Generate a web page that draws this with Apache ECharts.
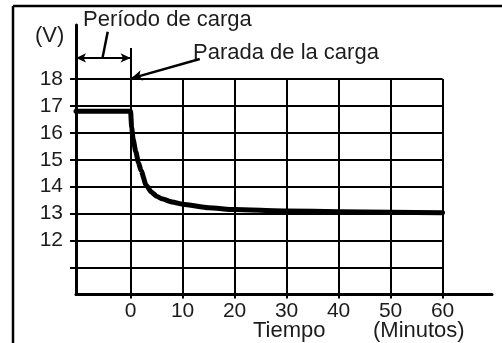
<!DOCTYPE html>
<html>
<head>
<meta charset="utf-8">
<style>
  html, body { margin: 0; padding: 0; background: #fff; }
  #chart { width: 502px; height: 343px; }
</style>
<script src="https://cdn.jsdelivr.net/npm/echarts@6/dist/echarts.min.js"></script>
</head>
<body>
<div id="chart"></div>
<script>
// Battery voltage after the charger is switched off (time in minutes, voltage in V)
const timeMin = [-10.5, 0, 0.2, 0.5, 1, 1.5, 2, 3, 4, 5, 6, 8, 10, 15, 20, 30, 40, 50, 60];
const voltage = [16.8, 16.8, 16.2, 15.75, 15.3, 14.9, 14.6, 14.05, 13.8, 13.65, 13.55, 13.43, 13.35, 13.22, 13.15, 13.1, 13.07, 13.05, 13.03];

// Axis ticks and labels
const xTickValues = [0, 10, 20, 30, 40, 50, 60];
const yTickValues = [11, 12, 13, 14, 15, 16, 17, 18];
const yLabelValues = [12, 13, 14, 15, 16, 17, 18];

// Grid extents (data units)
const xStart = -10.5, xEnd = 60;
const yLow = 10, yHigh = 18;

// Annotation anchor values (data units)
const chargeArrowV = 18.78;     // level of the "charging period" dimension arrow
const zeroLineTop = 19.15;      // top of the extended t = 0 line
const leaderFrom = [-4.4, 19.75], leaderTo = [-5.4, 18.78];
const stopArrowFrom = [13.3, 18.74], stopArrowTo = [0.15, 18.02];

const INK = '#000';
const TEXT = '#1c1c1c';
const FONT = 'Liberation Sans';
const FS = 22;        // captions
const FS_TICK = 21;   // tick labels
const FONT_CSS = FS + 'px "' + FONT + '"';

const gridLines = [];
yTickValues.forEach(v => gridLines.push([{ coord: [xStart, v] }, { coord: [xEnd, v] }]));
xTickValues.forEach(t => gridLines.push([{ coord: [t, yLow] }, { coord: [t, yHigh] }]));
gridLines.push([{ coord: [0, yHigh] }, { coord: [0, zeroLineTop] }]);

const chart = echarts.init(document.getElementById('chart'), null, { renderer: 'canvas' });

chart.setOption({
  backgroundColor: '#fff',
  animation: false,
  grid: { left: 76, right: 10, top: 25, bottom: 48.5, containLabel: false },
  xAxis: {
    type: 'value',
    min: -10.5,
    max: 69.5,
    axisLine: { show: true, onZero: false, lineStyle: { color: INK, width: 3 } },
    axisTick: { show: true, customValues: xTickValues, length: 4, lineStyle: { color: INK, width: 2 } },
    axisLabel: { customValues: xTickValues, color: TEXT, fontFamily: FONT, fontSize: FS_TICK, margin: 6 },
    splitLine: { show: false }
  },
  yAxis: {
    type: 'value',
    min: 10,
    max: 20,
    axisLine: { show: true, onZero: false, lineStyle: { color: INK, width: 3 } },
    axisTick: { show: true, customValues: yTickValues, length: 6, lineStyle: { color: INK, width: 2 } },
    axisLabel: { customValues: yLabelValues, color: TEXT, fontFamily: FONT, fontSize: FS_TICK, margin: 13 },
    splitLine: { show: false }
  },
  series: [
    {
      type: 'line',
      silent: true,
      data: [],
      markLine: {
        silent: true,
        symbol: ['none', 'none'],
        label: { show: false },
        lineStyle: { color: INK, width: 2, type: 'solid' },
        data: gridLines,
        z: 1
      }
    },
    {
      type: 'line',
      silent: true,
      data: [],
      markLine: {
        silent: true,
        symbol: ['arrow', 'arrow'],
        symbolSize: [7, 10],
        label: { show: false },
        lineStyle: { color: INK, width: 2, type: 'solid' },
        data: [[{ coord: [xStart, chargeArrowV] }, { coord: [0, chargeArrowV] }]]
      }
    },
    {
      type: 'line',
      silent: true,
      data: [],
      markLine: {
        silent: true,
        symbol: ['none', 'none'],
        label: { show: false },
        lineStyle: { color: INK, width: 2.5, type: 'solid' },
        data: [[{ coord: leaderFrom }, { coord: leaderTo }]]
      }
    },
    {
      type: 'line',
      silent: true,
      data: [],
      markLine: {
        silent: true,
        symbol: ['none', 'arrow'],
        symbolSize: [8, 11],
        label: { show: false },
        lineStyle: { color: INK, width: 2.5, type: 'solid' },
        data: [[{ coord: stopArrowFrom }, { coord: stopArrowTo }]]
      }
    },
    {
      name: 'Tensión',
      type: 'line',
      data: timeMin.map((t, i) => [t, voltage[i]]),
      showSymbol: false,
      smooth: 0.2,
      smoothMonotone: 'x',
      lineStyle: { color: INK, width: 5, cap: 'round', join: 'round' },
      z: 5
    }
  ],
  graphic: [
    // frame
    { type: 'line', shape: { x1: 13, y1: 6, x2: 502, y2: 6 }, style: { stroke: INK, lineWidth: 2.5 } },
    { type: 'line', shape: { x1: 13, y1: 6, x2: 13, y2: 343 }, style: { stroke: INK, lineWidth: 2.5 } },
    // captions
    { type: 'text', left: 35, top: 25, style: { text: '(V)', fill: TEXT, font: FONT_CSS } },
    { type: 'text', left: 83, top: 9, style: { text: 'Período de carga', fill: TEXT, font: FONT_CSS } },
    { type: 'text', left: 193, top: 42, style: { text: 'Parada de la carga', fill: TEXT, font: FONT_CSS } },
    { type: 'text', left: 253, top: 320, style: { text: 'Tiempo', fill: TEXT, font: FONT_CSS } },
    { type: 'text', left: 373, top: 320, style: { text: '(Minutos)', fill: TEXT, font: FONT_CSS } }
  ]
});
</script>
</body>
</html>
